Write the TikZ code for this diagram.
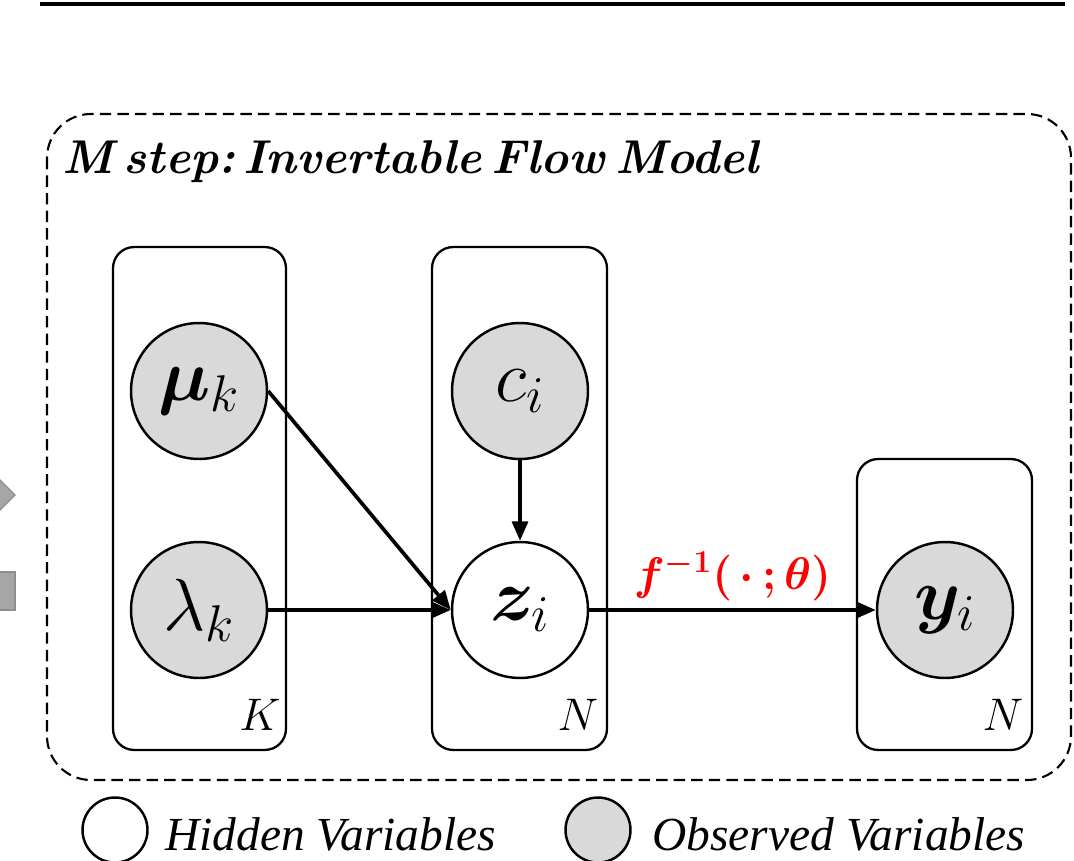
\RequirePackage{fix-cm}
\documentclass[tikz,border=0pt]{standalone}
\usepackage{amsmath,bm}
\usepackage{fontspec}
\newfontfamily\legendfont{Liberation Serif}
\usetikzlibrary{arrows.meta}
\definecolor{obsgrey}{HTML}{D9D9D9}
\definecolor{cutgrey}{HTML}{A6A6A6}
\begin{document}
\begin{tikzpicture}[x=0.02cm, y=-0.02cm,
  var/.style={circle, draw, line width=1.4pt, minimum size=2.72cm, inner sep=0pt, font=\fontsize{42}{46}\selectfont},
  obs/.style={var, fill=obsgrey},
  plate/.style={draw, line width=1.3pt, rounded corners=12pt, inner sep=0pt},
  platelabel/.style={inner sep=0pt, font=\fontsize{26}{28}\selectfont},
  edge/.style={line width=2.1pt, -{Triangle[length=11pt, width=9pt]}},
  legendtext/.style={anchor=base west, inner sep=0pt, font=\legendfont\itshape\fontsize{27}{32}\selectfont}]
\useasboundingbox (0,0) rectangle (1074,861);
% cut-off shapes at the left edge
\begin{scope}
\clip (0,0) rectangle (1074,861);
\draw[cutgrey!85!black, fill=cutgrey, line width=0.8pt] (-49,495) -- (-17,463) -- (15,495) -- (-17,527) -- cycle;
\draw[cutgrey!85!black, fill=cutgrey, line width=0.8pt] (-30,572) rectangle (15,610);
\end{scope}
\draw[line width=2.8pt] (40,4) -- (1065,4);
\draw[dashed, line width=1.2pt, dash pattern=on 6.5pt off 3.5pt, rounded corners=25pt] (47,114) rectangle (1071,780);
\node[anchor=base west, inner sep=0pt, font=\bfseries\itshape\fontsize{27}{30}\selectfont] (title) at (62,174) {M\hspace{0.22em}step:\,Invertable\hspace{0.22em}Flow\hspace{0.22em}Model};
% plates
\node[plate, minimum width=3.46cm, minimum height=10.06cm] (plateK) at (199.5,498.5) {};
\node[plate, minimum width=3.5cm, minimum height=10.06cm] (plateN) at (519.5,498.5) {};
\node[plate, minimum width=3.5cm, minimum height=5.82cm] (plateY) at (944.5,604.5) {};
\node[platelabel] (labK) at (260,715) {$K$};
\node[platelabel] (labN) at (578,715) {$N$};
\node[platelabel] (labY) at (1003,715) {$N$};
% variables
\node[obs] (mu) at (199,391) {$\bm{\mu}_k$};
\node[obs] (lam) at (199,610) {$\lambda_k$};
\node[obs] (c) at (520,391) {$c_i$};
\node[var] (z) at (520,610) {$\bm{z}_i$};
\node[obs] (y) at (945,610) {$\bm{y}_i$};
\draw[edge] (mu.east) -- (z.west);
\draw[edge] (lam.east) -- (z.west);
\draw[edge] (c.south) -- (z.north);
\draw[edge] (z.east) -- node[above, red, font=\fontsize{26}{30}\selectfont, yshift=1pt] {$\bm{f^{-1}(\,\cdot\,;\theta)}$} (y.west);
% legend
\node[var, minimum size=1.3cm] (hid) at (115,830) {};
\node[legendtext] (hidtext) at (165,850) {Hidden Variables};
\node[obs, minimum size=1.3cm] (seen) at (598,830) {};
\node[legendtext] (seentext) at (652,850) {Observed Variables};
\end{tikzpicture}
\end{document}
